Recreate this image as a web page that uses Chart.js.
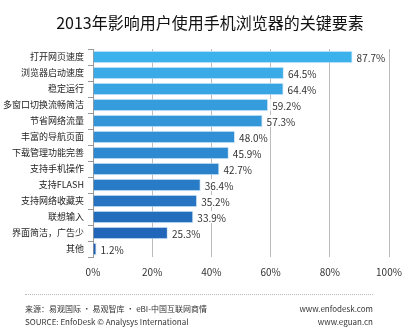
<!DOCTYPE html>
<html>
<head>
<meta charset="utf-8">
<script src="https://cdn.jsdelivr.net/npm/chart.js@4"></script>
<style>
  body { margin: 0; background: #fff; font-family: "Noto Sans CJK SC", sans-serif; }
  #wrap { position: relative; width: 406px; height: 332px; }
  #title { position: absolute; left: 0; width: 420px; top: 10px; text-align: center; font-size: 16px; color: #111; }
  #rule { position: absolute; left: 25px; width: 348px; top: 294px; border-top: 1px dotted #bbb; }
  .foot { position: absolute; font-size: 8px; color: #333; line-height: 10px; }
</style>
</head>
<body>
<div id="wrap">
  <canvas id="myChart" width="406" height="332"></canvas>
  <div id="title">2013年影响用户使用手机浏览器的关键要素</div>
  <div id="rule"></div>
  <div class="foot" style="left:25px; top:304px;">来源：易观国际 · 易观智库 · eBI-中国互联网商情</div>
  <div class="foot" style="left:25px; top:317px;">SOURCE: EnfoDesk © Analysys International</div>
  <div class="foot" style="right:33px; top:304px; text-align:right;">www.enfodesk.com</div>
  <div class="foot" style="right:33px; top:317px; text-align:right;">www.eguan.cn</div>
</div>
<script>
const labels = ['打开网页速度', '浏览器启动速度', '稳定运行', '多窗口切换流畅简洁', '节省网络流量',
  '丰富的导航页面', '下载管理功能完善', '支持手机操作', '支持FLASH', '支持网络收藏夹',
  '联想输入', '界面简洁，广告少', '其他'];
const values = [87.7, 64.5, 64.4, 59.2, 57.3, 48.0, 45.9, 42.7, 36.4, 35.2, 33.9, 25.3, 1.2];
const xTicks = [0, 20, 40, 60, 80, 100];

// light blue at top fading to darker blue at the bottom
function barColor(i) {
  const a = [60, 178, 236], b = [30, 95, 180];
  const t = i / (labels.length - 1);
  const c = a.map((v, k) => Math.round(v + (b[k] - v) * t));
  return 'rgb(' + c.join(',') + ')';
}

const valueLabels = {
  id: 'valueLabels',
  afterDatasetsDraw(chart) {
    const ctx = chart.ctx;
    const meta = chart.getDatasetMeta(0);
    ctx.save();
    ctx.font = '10px "Noto Sans CJK SC", sans-serif';
    ctx.textBaseline = 'middle';
    meta.data.forEach((bar, i) => {
      const txt = values[i].toFixed(1) + '%';
      const w = ctx.measureText(txt).width;
      const x = bar.x + 4;
      ctx.fillStyle = '#fff';
      ctx.fillRect(x - 2, bar.y - 6, w + 4, 12);
      ctx.fillStyle = '#333';
      ctx.fillText(txt, x, bar.y + 1);
    });
    ctx.restore();
  }
};

const ctx1 = document.getElementById('myChart');

new Chart(ctx1, {
  type: 'bar',
  data: {
    labels: labels,
    datasets: [{
      data: values,
      backgroundColor: labels.map((l, i) => barColor(i)),
      borderColor: 'rgba(210,232,246,0.9)',
      borderWidth: 1,
      barPercentage: 0.78,
      categoryPercentage: 1
    }]
  },
  plugins: [valueLabels],
  options: {
    indexAxis: 'y',
    responsive: false,
    animation: false,
    layout: { padding: { top: 49, right: 17, bottom: 45, left: 0 } },
    plugins: { legend: { display: false }, tooltip: { enabled: false } },
    scales: {
      x: {
        min: 0,
        max: 100,
        afterBuildTicks: s => { s.ticks = xTicks.map(v => ({ value: v })); },
        afterFit: s => { s.height = 30; s.paddingLeft = 0; s.paddingRight = 0; },
        grid: { color: '#bbb', drawTicks: false },
        border: { display: false },
        ticks: { padding: 9, color: '#333', font: { size: 10, family: '"Noto Sans CJK SC"' }, callback: v => v + '%' }
      },
      y: {
        afterFit: s => { s.width = 93; },
        grid: { drawOnChartArea: false, tickLength: 5, color: '#999' },
        border: { color: '#999' },
        ticks: { padding: 4, color: '#222', font: { size: 9, family: '"Noto Sans CJK SC"' } }
      }
    }
  }
});
</script>
</body>
</html>
